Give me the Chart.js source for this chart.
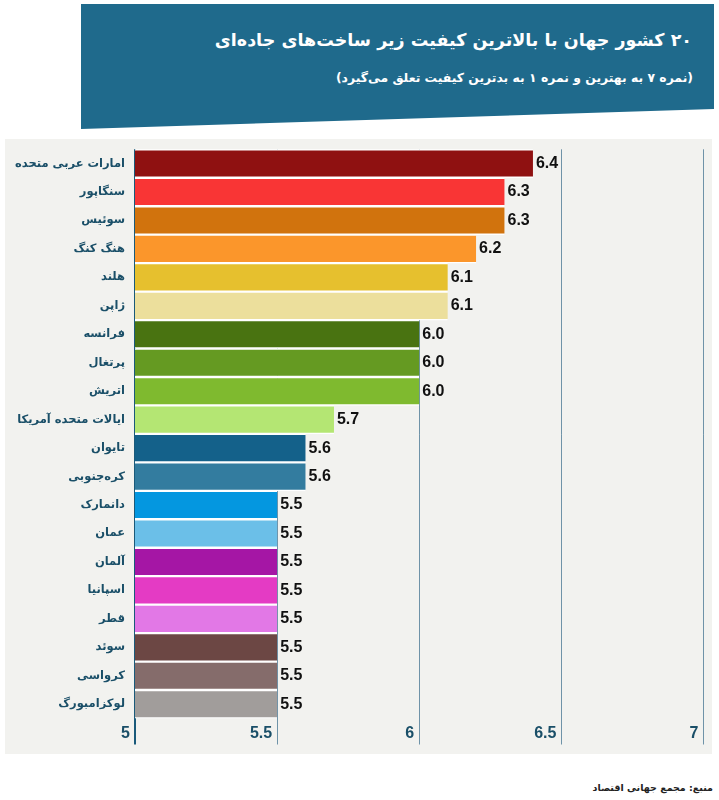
<!DOCTYPE html>
<html lang="fa">
<head>
<meta charset="utf-8">
<title>Road quality</title>
<script src="https://cdn.jsdelivr.net/npm/chart.js@4"></script>
<style>
    html, body { margin: 0; padding: 0; background: #fff; }
    body { width: 719px; height: 800px; position: relative; overflow: hidden; font-family: "DejaVu Sans", sans-serif; }
    #header {
        position: absolute; left: 81px; top: 4px; width: 633px; height: 125px;
        background: #1f6a8c;
        clip-path: polygon(0 0, 100% 0, 100% 84%, 0 100%);
    }
    .line { position: absolute; white-space: nowrap; direction: rtl; font-weight: bold; color: #fff; }
    #title { right: 22px; top: 23px; font-size: 17.5px; line-height: 26px; }
    #subtitle { right: 21px; top: 64px; font-size: 12.4px; line-height: 20px; }
    #panel { position: absolute; left: 5px; top: 139px; width: 707px; height: 615px; background: #f2f2ef; }
    #source { position: absolute; right: 6px; top: 782px; direction: rtl; font-size: 9.5px; font-weight: bold; color: #222; white-space: nowrap; }
</style>
</head>
<body>
<div id="header">
    <div class="line" id="title">۲۰ کشور جهان با بالاترین کیفیت زیر ساخت‌های جاده‌ای</div>
    <div class="line" id="subtitle">(نمره ۷ به بهترین و نمره ۱ به بدترین کیفیت تعلق می‌گیرد)</div>
</div>
<div id="panel"><canvas id="roadChart" width="707" height="615"></canvas></div>
<div id="source">منبع: مجمع جهانی اقتصاد</div>
<script>
const countries = ['امارات عربی متحده', 'سنگاپور', 'سوئیس', 'هنگ کنگ', 'هلند', 'ژاپن', 'فرانسه', 'پرتغال', 'اتریش', 'ایالات متحده آمریکا',
    'تایوان', 'کره‌جنوبی', 'دانمارک', 'عمان', 'آلمان', 'اسپانیا', 'قطر', 'سوئد', 'کرواسی', 'لوکزامبورگ'];
const scores = [6.4, 6.3, 6.3, 6.2, 6.1, 6.1, 6.0, 6.0, 6.0, 5.7, 5.6, 5.6, 5.5, 5.5, 5.5, 5.5, 5.5, 5.5, 5.5, 5.5];
const barColors = ['#8f1111', '#f93535', '#d1730d', '#fb962b', '#e6c02e', '#ecdf9c', '#497311', '#659a22', '#7fba2f', '#b4e673',
    '#14618a', '#337c9f', '#0497e0', '#6bbfe8', '#a516a5', '#e43bc4', '#e278e6', '#6c4744', '#856c6b', '#a19d9b'];
const xTicks = [5, 5.5, 6, 6.5, 7];

const axisBlue = '#1a5a7a';
const gridBlue = '#6f93a8';
const latinFont = '"Liberation Sans", Arial, sans-serif';

// Value labels next to the bar ends
const valueLabels = {
    id: 'valueLabels',
    afterDatasetsDraw(chart) {
        const ctx = chart.ctx;
        ctx.save();
        ctx.font = 'bold 16px ' + latinFont;
        ctx.fillStyle = '#111';
        ctx.textAlign = 'left';
        ctx.textBaseline = 'middle';
        chart.getDatasetMeta(0).data.forEach((bar, i) => {
            ctx.fillText(scores[i].toFixed(1), bar.x + 3, bar.y);
        });
        ctx.restore();
    }
};

new Chart(document.getElementById('roadChart').getContext('2d'), {
    type: 'bar',
    data: {
        labels: countries,
        datasets: [{
            data: scores,
            backgroundColor: barColors,
            borderColor: '#fff',
            borderWidth: { top: 1.5, bottom: 1.5, left: 0, right: 0 },
            borderSkipped: false,
            barPercentage: 1,
            categoryPercentage: 1
        }]
    },
    plugins: [valueLabels],
    options: {
        indexAxis: 'y',
        responsive: false,
        animation: false,
        layout: { padding: { top: 10.3, right: 8.5, bottom: 9.5, left: 0 } },
        plugins: { legend: { display: false }, tooltip: { enabled: false } },
        scales: {
            x: {
                type: 'linear',
                min: 5,
                max: 7,
                afterBuildTicks(scale) {
                    scale.ticks = xTicks.map(value => ({ value }));
                },
                afterFit(scale) { scale.height = 26; },
                border: { display: false },
                grid: {
                    color: ctx => ctx.index === 0 ? axisBlue : gridBlue,
                    lineWidth: ctx => ctx.index === 0 ? 2 : 1,
                    tickColor: ctx => ctx.index === 0 ? axisBlue : gridBlue,
                    tickWidth: ctx => ctx.index === 0 ? 2 : 1,
                    tickLength: 26
                },
                ticks: {
                    align: 'end',
                    padding: -21,
                    maxRotation: 0,
                    labelOffset: -5,
                    color: '#1a4f68',
                    font: { family: latinFont, size: 16, weight: 'bold' },
                    callback: value => String(value)
                }
            },
            y: {
                afterFit(scale) {
                    scale.width = 130;
                    scale.paddingTop = 0;
                    scale.paddingBottom = 0;
                },
                border: { display: false },
                grid: { display: false, drawTicks: false },
                ticks: {
                    autoSkip: false,
                    padding: 10,
                    color: '#1a4f68',
                    font: { family: '"DejaVu Sans", sans-serif', size: 11.5, weight: 'bold' }
                }
            }
        }
    }
});
</script>
</body>
</html>
